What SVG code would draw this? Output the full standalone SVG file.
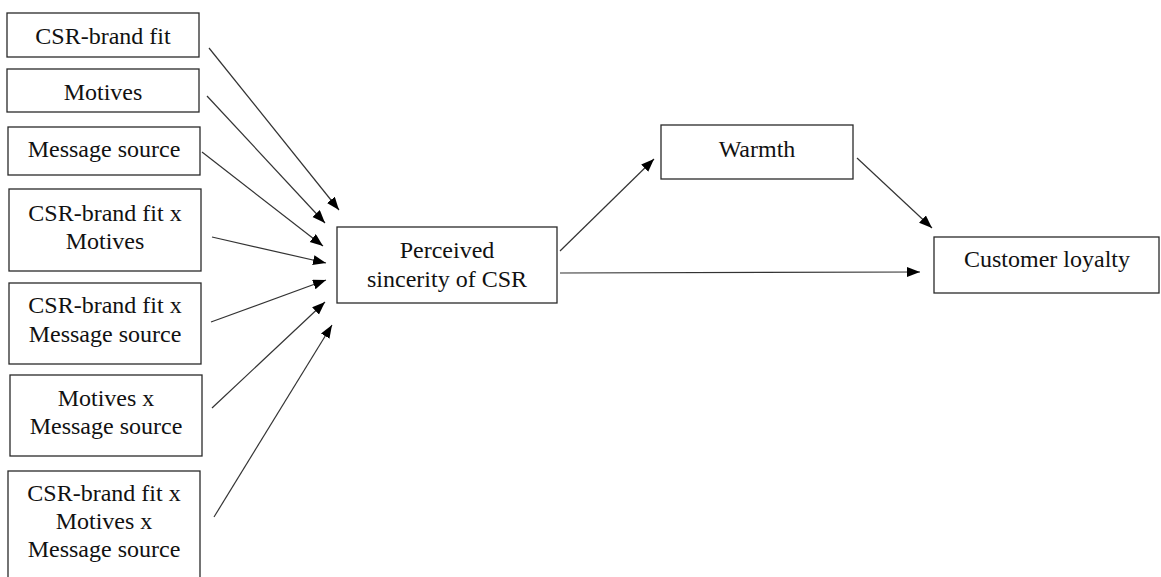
<svg xmlns="http://www.w3.org/2000/svg" width="1161" height="577" viewBox="0 0 1161 577">
<style>
.box{fill:#fff;stroke:#2a2a2a;stroke-width:1.3}
.t{font-family:"Liberation Serif","Times New Roman",serif;font-size:24px;fill:#111;text-anchor:middle}
.c{stroke:#333;stroke-width:1.2;fill:none;marker-end:url(#ah)}
</style>
<defs>
<marker id="ah" markerUnits="userSpaceOnUse" markerWidth="14" markerHeight="11" refX="13" refY="5" orient="auto">
<path d="M0,0 L13,5 L0,10 z" fill="#000"/>
</marker>
</defs>
<rect width="1161" height="577" fill="#fff"/>
<g id="connectors">
<line class="c" x1="209" y1="48" x2="339" y2="210"/>
<line class="c" x1="207" y1="96" x2="325" y2="223"/>
<line class="c" x1="202" y1="152" x2="323" y2="246"/>
<line class="c" x1="212" y1="237" x2="326" y2="263"/>
<line class="c" x1="211" y1="322" x2="326" y2="280"/>
<line class="c" x1="212" y1="408" x2="325" y2="302"/>
<line class="c" x1="214" y1="517" x2="332" y2="325"/>
<line class="c" x1="560" y1="251" x2="654" y2="159"/>
<line class="c" x1="560" y1="273" x2="920" y2="272"/>
<line class="c" x1="857" y1="158" x2="932" y2="228"/>
</g>
<g id="n1"><rect class="box" x="7" y="13" width="192" height="44"/><text class="t" x="103" y="44">CSR-brand fit</text></g>
<g id="n2"><rect class="box" x="7" y="69" width="192" height="43"/><text class="t" x="103" y="100">Motives</text></g>
<g id="n3"><rect class="box" x="8" y="127" width="192" height="48"/><text class="t" x="104" y="157">Message source</text></g>
<g id="n4"><rect class="box" x="9" y="189" width="192" height="82"/><text class="t" x="105" y="221">CSR-brand fit x</text><text class="t" x="105" y="249">Motives</text></g>
<g id="n5"><rect class="box" x="9" y="283" width="192" height="81"/><text class="t" x="105" y="313">CSR-brand fit x</text><text class="t" x="105" y="342">Message source</text></g>
<g id="n6"><rect class="box" x="10" y="375" width="192" height="81"/><text class="t" x="106" y="406">Motives x</text><text class="t" x="106" y="434">Message source</text></g>
<g id="n7"><rect class="box" x="8" y="471" width="192" height="120"/><text class="t" x="104" y="501">CSR-brand fit x</text><text class="t" x="104" y="529">Motives x</text><text class="t" x="104" y="557">Message source</text></g>
<g id="n8"><rect class="box" x="337" y="227" width="220" height="76"/><text class="t" x="447" y="258">Perceived</text><text class="t" x="447" y="287">sincerity of CSR</text></g>
<g id="n9"><rect class="box" x="661" y="125" width="192" height="54"/><text class="t" x="757" y="157">Warmth</text></g>
<g id="n10"><rect class="box" x="934" y="237" width="225" height="56"/><text class="t" x="1047" y="267">Customer loyalty</text></g>
</svg>
